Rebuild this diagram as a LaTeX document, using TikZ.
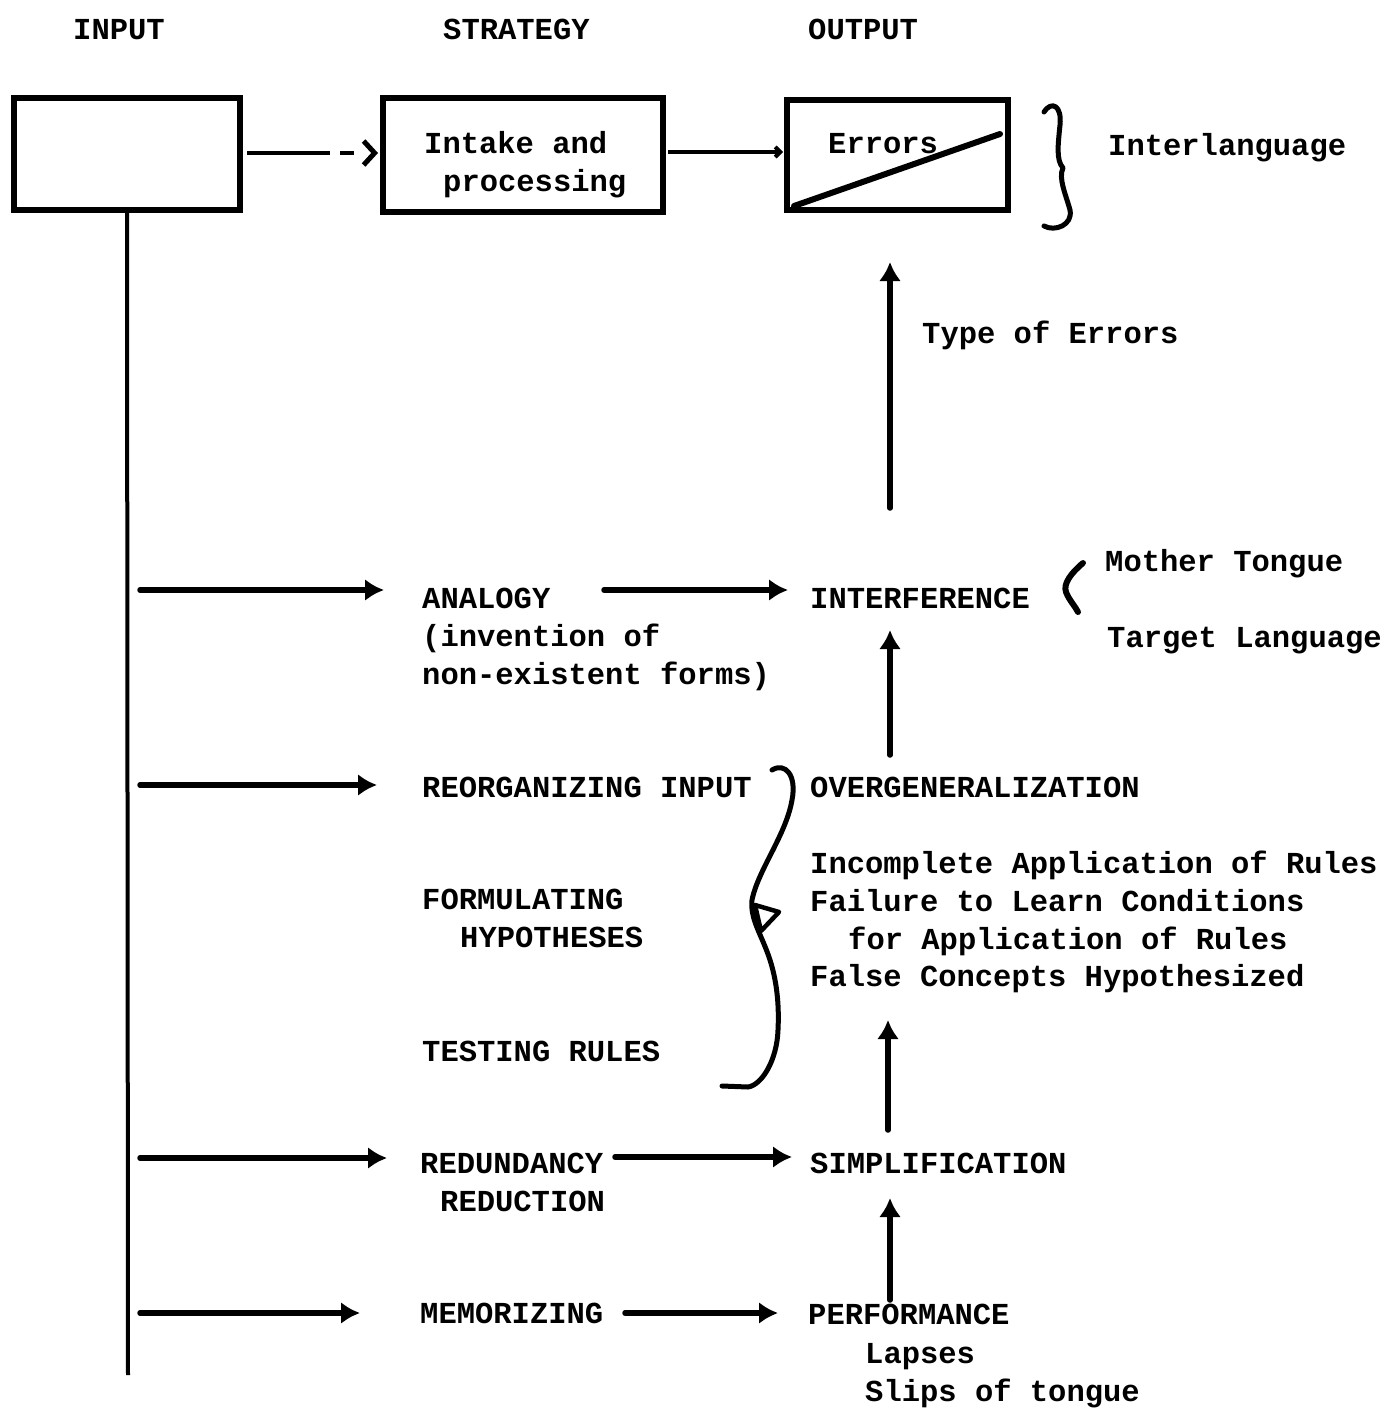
\documentclass[tikz,border=0pt]{standalone}
\usepackage{fontspec}
\newfontfamily\twfont{Liberation Mono}
\usetikzlibrary{arrows.meta}
\begin{document}
\begin{tikzpicture}[x=1pt,y=-1pt,
  txt/.style={anchor=base west, inner sep=0pt, font=\twfont\bfseries\fontsize{30.5}{38}\selectfont},
  box/.style={draw, line width=6pt, inner sep=0pt},
  arr/.style={line width=5.5pt, line cap=round, -{Latex[length=19pt,width=22pt]}},
  brace/.style={line width=5pt, line cap=round, line join=round}]
\useasboundingbox (0,0) rectangle (1392,1408);

% headers
\node[txt] (hin) at (73,39) {INPUT};
\node[txt] (hst) at (443,39) {STRATEGY};
\node[txt] (hout) at (808,39) {OUTPUT};

% top boxes
\node[box, minimum width=226pt, minimum height=112pt] (b1) at (127,154) {};
\node[box, minimum width=280pt, minimum height=114pt] (b2) at (523,155) {};
\node[box, minimum width=221pt, minimum height=110pt] (b3) at (897.5,155) {};
\node[txt] (t21) at (424,153) {Intake and};
\node[txt] (t22) at (443,191) {processing};
\node[txt] (t3) at (828,153) {Errors};
\coordinate (d1) at (794,206);
\coordinate (d2) at (1000,134);
\draw[line width=6pt, line cap=round] (d1) -- (d2);

% top connectors
\coordinate (da) at (247,153);
\coordinate (db) at (378,153);
\draw[line width=3.8pt, dash pattern=on 83pt off 10pt on 14pt off 100pt,
      -{Straight Barb[length=11pt,width=24pt,line width=5pt]}] (da) -- (db);
\coordinate (ea) at (668,152);
\coordinate (eb) at (783,152);
\draw[line width=4pt, -{Straight Barb[length=5pt,width=10pt]}] (ea) -- (eb);

% interlanguage brace
\draw[brace] (1044,112) .. controls (1052,100) and (1062,106) .. (1060,125)
  .. controls (1058,145) and (1056,160) .. (1063,168)
  .. controls (1058,178) and (1066,195) .. (1070,210)
  .. controls (1073,225) and (1055,232) .. (1044,226);
\node[txt] (il) at (1108,155) {Interlanguage};

% vertical input line
\coordinate (vend) at (128,1375);
\draw[line width=4pt] (b1.south) -- (vend);

% strategy texts
\node[txt] (an1) at (422,608) {ANALOGY};
\node[txt] (an2) at (422,646) {(invention of};
\node[txt] (an3) at (422,684) {non-existent forms)};
\node[txt] (ro) at (422,797) {REORGANIZING INPUT};
\node[txt] (fh1) at (422,909) {FORMULATING};
\node[txt] (fh2) at (460,947) {HYPOTHESES};
\node[txt] (tr) at (422,1061) {TESTING RULES};
\node[txt] (rr1) at (420,1173) {REDUNDANCY};
\node[txt] (rr2) at (440,1211) {REDUCTION};
\node[txt] (mem) at (420,1323) {MEMORIZING};

% output texts
\node[txt] (intf) at (810,608) {INTERFERENCE};
\node[txt] (mt) at (1105,571) {Mother Tongue};
\node[txt] (tl) at (1107,647) {Target Language};
\node[txt] (toe) at (922,343) {Type of Errors};
\node[txt] (ovg) at (810,797) {OVERGENERALIZATION};
\node[txt] (o1) at (810,873) {Incomplete Application of Rules};
\node[txt] (o2) at (810,911) {Failure to Learn Conditions};
\node[txt] (o3) at (848,949) {for Application of Rules};
\node[txt] (o4) at (810,986) {False Concepts Hypothesized};
\node[txt] (simp) at (810,1173) {SIMPLIFICATION};
\node[txt] (perf) at (808,1324) {PERFORMANCE};
\node[txt] (lap) at (865,1363) {Lapses};
\node[txt] (slip) at (865,1401) {Slips of tongue};

% mother tongue bracket
\draw[brace, line width=6pt] (1083,563) .. controls (1071,573) and (1063,584) .. (1066,592)
  .. controls (1069,600) and (1075,606) .. (1078,612);

% big brace
\draw[brace] (772,770) .. controls (785,762) and (797,775) .. (792,800)
  .. controls (786,835) and (758,870) .. (752,900)
  .. controls (750,920) and (762,935) .. (770,960)
  .. controls (778,985) and (779,1010) .. (778,1030)
  .. controls (777,1060) and (762,1085) .. (748,1087) -- (722,1086);
\draw[line width=4.5pt, fill=white, line join=round] (755,905) -- (779,912) -- (761,931) -- cycle;

% branch arrows from input line
\coordinate (j1) at (140,590); \coordinate (k1) at (384,590);
\coordinate (j2) at (140,785); \coordinate (k2) at (377,785);
\coordinate (j3) at (140,1158); \coordinate (k3) at (387,1158);
\coordinate (j4) at (140,1313); \coordinate (k4) at (360,1313);
\draw[arr] (j1) -- (k1);
\draw[arr] (j2) -- (k2);
\draw[arr] (j3) -- (k3);
\draw[arr] (j4) -- (k4);

% strategy to output arrows
\coordinate (p1) at (604,590); \coordinate (q1) at (788,590);
\coordinate (p2) at (615,1157); \coordinate (q2) at (792,1157);
\coordinate (p3) at (625,1313); \coordinate (q3) at (778,1313);
\draw[arr] (p1) -- (q1);
\draw[arr] (p2) -- (q2);
\draw[arr] (p3) -- (q3);

% upward arrows
\coordinate (u1) at (890,508); \coordinate (w1) at (890,262);
\coordinate (u2) at (890,755); \coordinate (w2) at (890,630);
\coordinate (u3) at (888,1130); \coordinate (w3) at (888,1020);
\coordinate (u4) at (890,1300); \coordinate (w4) at (890,1198);
\draw[arr] (u1) -- (w1);
\draw[arr] (u2) -- (w2);
\draw[arr] (u3) -- (w3);
\draw[arr] (u4) -- (w4);
\end{tikzpicture}
\end{document}
